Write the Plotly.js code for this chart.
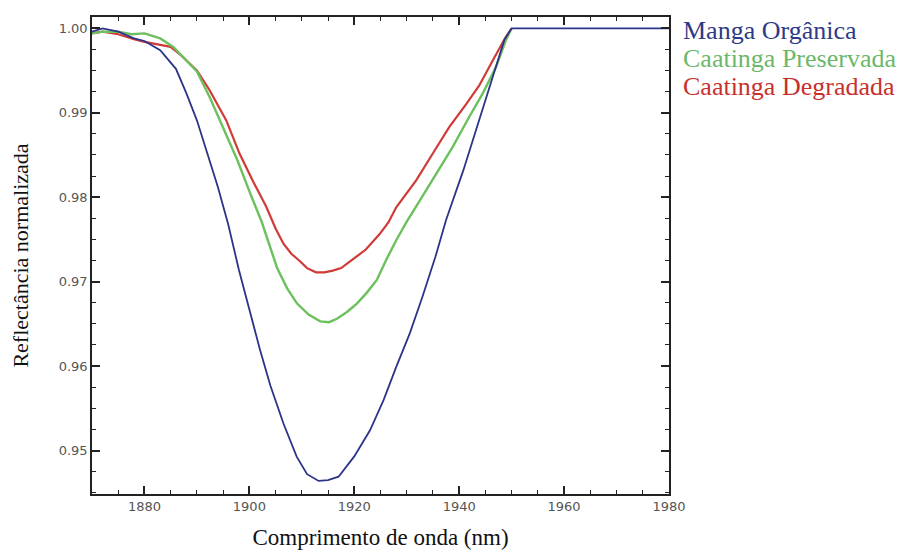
<!DOCTYPE html>
<html>
<head>
<meta charset="utf-8">
<script src="https://cdn.plot.ly/plotly-3.0.1.min.js"></script>
<style>html,body{margin:0;padding:0;background:#fff;}#chart{width:914px;height:550px;}</style>
</head>
<body>
<div id="chart"></div>
<script>
// Series names
const seriesNames = ["Manga Orgânica", "Caatinga Preservada", "Caatinga Degradada"];

// Manga Orgânica
const mangaX = [1870,1872,1875,1878,1880,1883,1886,1888,1890,1892,1894,1896,1898,1900,1902,1904,1906.5,1909,1911,1913.2,1915,1917,1920,1923,1925.6,1928,1930.6,1933,1935.5,1937.5,1940.8,1943.8,1946.4,1948.6,1950,1960,1970,1980];
const mangaY = [0.9996,1.0000,0.9996,0.9988,0.9985,0.9974,0.9952,0.9923,0.9891,0.9851,0.9812,0.9767,0.9714,0.9667,0.9620,0.9577,0.9532,0.9493,0.9472,0.9464,0.9465,0.9469,0.9493,0.9524,0.9560,0.9599,0.9639,0.9682,0.9730,0.9773,0.9832,0.9891,0.9942,0.9986,1.0000,1.0000,1.0000,1.0000];

// Caatinga Preservada
const presX = [1870,1872,1875,1877.5,1880,1883,1885.5,1888,1890,1892.4,1895,1897.7,1900.2,1902.4,1905.3,1907.2,1909.1,1911.3,1913.5,1915.2,1916.7,1918.6,1920.5,1922.4,1924.3,1926.1,1928,1930,1932.4,1935.6,1938.8,1941.9,1944.5,1947,1948.9,1950];
const presY = [0.9994,0.9996,0.9996,0.9993,0.9994,0.9988,0.9978,0.9962,0.9949,0.9919,0.9883,0.9844,0.9804,0.9770,0.9716,0.9692,0.9674,0.9661,0.9653,0.9652,0.9656,0.9664,0.9674,0.9687,0.9702,0.9726,0.9749,0.9771,0.9795,0.9828,0.9860,0.9895,0.9923,0.9954,0.9986,1.0000];

// Caatinga Degradada
const degX = [1870,1872,1875,1878,1880,1883,1885,1887,1890,1892.4,1895.6,1898.1,1900.6,1903.2,1905,1906.5,1908,1909.5,1911,1912.7,1914.3,1915.9,1917.5,1919,1920.5,1922.2,1924.8,1926.5,1928,1931.8,1935,1938.1,1941.3,1943.8,1946.4,1948.9,1950];
const degY = [0.9994,0.9996,0.9993,0.9987,0.9984,0.9980,0.9978,0.9968,0.9950,0.9927,0.9891,0.9852,0.9820,0.9789,0.9763,0.9745,0.9733,0.9725,0.9716,0.9711,0.9711,0.9713,0.9716,0.9723,0.9730,0.9738,0.9756,0.9770,0.9788,0.9820,0.9852,0.9883,0.9910,0.9932,0.9962,0.9990,1.0000];

const colors = ["#2c3489", "#6cc05e", "#d03b38"];
const textColors = ["#2e3a87", "#6cb86a", "#c8302e"];
const serif = "Liberation Serif, Times New Roman, serif";

const traces = [
  {x: degX, y: degY, mode: "lines", name: seriesNames[2], line: {color: colors[2], width: 2.2}},
  {x: presX, y: presY, mode: "lines", name: seriesNames[1], line: {color: colors[1], width: 2.4}},
  {x: mangaX, y: mangaY, mode: "lines", name: seriesNames[0], line: {color: colors[0], width: 1.8}}
];

const tickFont = {family: "DejaVu Sans", size: 13, color: "#555"};

const layout = {
  width: 914, height: 550,
  margin: {l: 92, r: 245, t: 17, b: 56},
  paper_bgcolor: "#fff", plot_bgcolor: "#fff",
  showlegend: false,
  xaxis: {
    showgrid: false, zeroline: false, showline: true, linecolor: "#222", linewidth: 1.5,
    mirror: "allticks", ticks: "inside", ticklen: 8, tickwidth: 1.5, tickcolor: "#222",
    tickfont: tickFont,
    range: [1870, 1980], dtick: 20, tick0: 1880,
    minor: {dtick: 5, ticks: "inside", ticklen: 4, tickcolor: "#222", tickwidth: 1.2},
    title: {text: "Comprimento de onda (nm)", font: {family: serif, size: 23, color: "#111"}, standoff: 16}
  },
  yaxis: {
    showgrid: false, zeroline: false, showline: true, linecolor: "#222", linewidth: 1.5,
    mirror: "allticks", ticks: "inside", ticklen: 8, tickwidth: 1.5, tickcolor: "#222",
    tickfont: tickFont,
    range: [0.94485, 1.00134], dtick: 0.01, tick0: 0.95, tickformat: ".2f",
    minor: {dtick: 0.0025, ticks: "inside", ticklen: 4, tickcolor: "#222", tickwidth: 1.2},
    title: {text: "Reflectância normalizada", font: {family: serif, size: 22, color: "#111"}, standoff: 24}
  },
  annotations: seriesNames.map((n, i) => ({
    text: n, xref: "paper", yref: "paper", x: 1.02, y: 1.0 - i * 0.059 + 0.006,
    xanchor: "left", yanchor: "top", showarrow: false,
    font: {family: serif, size: 26, color: textColors[i]}
  }))
};

Plotly.newPlot("chart", traces, layout, {displayModeBar: false});
</script>
</body>
</html>
